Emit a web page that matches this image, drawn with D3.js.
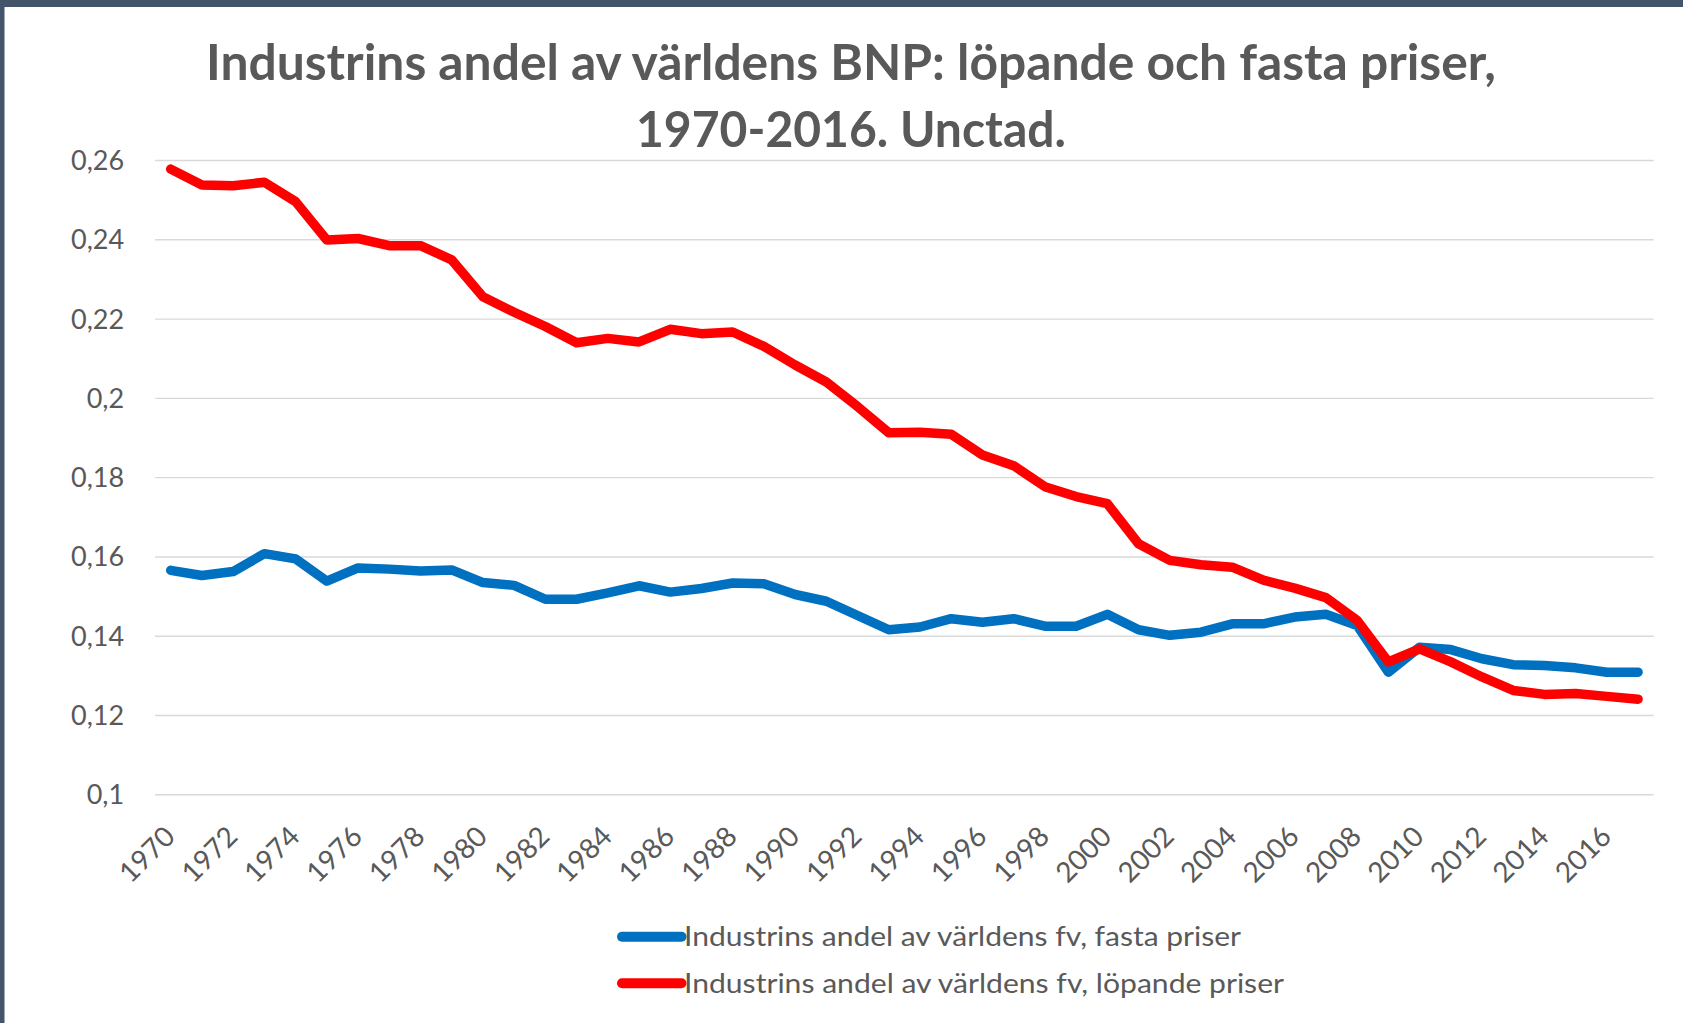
<!DOCTYPE html>
<html>
<head>
<meta charset="utf-8">
<script src="https://cdn.jsdelivr.net/npm/d3@7"></script>
<style>
html,body{margin:0;padding:0;background:#fff;}
svg{display:block;}
text{font-family:Lato,"Open Sans",sans-serif;}
</style>
</head>
<body>
<svg id="chart" width="1683" height="1023"></svg>
<script>
const years = d3.range(1970, 2018);
const fastaPriser = [0.1565,0.1552,0.1562,0.1607,0.1594,0.1538,0.1571,0.1568,0.1563,0.1566,
  0.1534,0.1527,0.1492,0.1492,0.1508,0.1526,0.1510,0.1519,0.1533,0.1531,
  0.1504,0.1487,0.1451,0.1415,0.1422,0.1443,0.1434,0.1443,0.1424,0.1424,
  0.1454,0.1415,0.1401,0.1409,0.1430,0.1430,0.1447,0.1454,0.1426,0.1308,
  0.1371,0.1365,0.1342,0.1327,0.1325,0.1319,0.1308,0.1308];
const lopandePriser = [0.2577,0.2537,0.2535,0.2544,0.2495,0.2398,0.2402,0.2384,0.2384,0.2348,
  0.2255,0.2216,0.2180,0.2139,0.2150,0.2141,0.2173,0.2162,0.2166,0.2130,
  0.2083,0.2040,0.1978,0.1912,0.1913,0.1908,0.1856,0.1829,0.1776,0.1751,
  0.1733,0.1632,0.1590,0.1579,0.1573,0.1540,0.1520,0.1496,0.1439,0.1334,
  0.1367,0.1334,0.1296,0.1262,0.1252,0.1254,0.1247,0.1240];
const yTicks = [0.1,0.12,0.14,0.16,0.18,0.2,0.22,0.24,0.26];
const yTickLabels = ["0,1","0,12","0,14","0,16","0,18","0,2","0,22","0,24","0,26"];
const xTickYears = years.filter(y => y % 2 === 0);
const seriesNames = ["Industrins andel av världens fv, fasta priser","Industrins andel av världens fv, löpande priser"];
const seriesColors = ["#0070C0","#FF0000"];
const titleLines = ["Industrins andel av världens BNP: löpande och fasta priser,","1970-2016. Unctad."];

const svg = d3.select("#chart");
const textColor = "#595959";

// frame
svg.append("rect").attr("x",0).attr("y",0).attr("width",1683).attr("height",1023).attr("fill","#fff");
svg.append("rect").attr("x",0).attr("y",0).attr("width",1683).attr("height",7).attr("fill","#44546A");
svg.append("rect").attr("x",0).attr("y",0).attr("width",4.5).attr("height",1023).attr("fill","#44546A");

const x = d3.scaleBand().domain(years).range([155.1, 1653.7]);
const xc = d => x(d) + x.bandwidth()/2;
const y = d3.scaleLinear().domain([0.1, 0.26]).range([794.3, 160]);

// title
const titleSpecs = [{x:206, y:80, w:1290},{x:636, y:146.5, w:430}];
titleLines.forEach((t,i) => {
  svg.append("text").attr("x",titleSpecs[i].x).attr("y",titleSpecs[i].y)
    .attr("font-size",49).attr("font-weight","bold").attr("fill",textColor)
    .attr("textLength",titleSpecs[i].w).attr("lengthAdjust","spacingAndGlyphs")
    .text(t);
});

// y axis + gridlines
const yAxis = d3.axisLeft(y).tickValues(yTicks)
  .tickFormat((d,i) => yTickLabels[i])
  .tickSize(-(1653.7-155.1)).tickPadding(31);
const gy = svg.append("g").attr("transform","translate(155.1,0)").call(yAxis);
gy.select(".domain").remove();
gy.selectAll(".tick line").attr("stroke","#D9D9D9").attr("stroke-width",1.4);
gy.selectAll(".tick text").attr("font-size",27).attr("fill",textColor)
  .attr("font-family","Lato").attr("dy","0.35em");

// x axis labels
const xAxis = d3.axisBottom(x).tickValues(xTickYears).tickSize(0).tickPadding(0);
const gx = svg.append("g").attr("transform","translate(0,794.3)").call(xAxis);
gx.select(".domain").remove();
gx.selectAll(".tick text")
  .attr("font-size",28).attr("fill",textColor).attr("font-family","Lato")
  .attr("text-anchor","end")
  .attr("y",0).attr("dy",0)
  .attr("transform","translate(6,44) rotate(-45)");

// lines
const line = d3.line().x((d,i) => xc(years[i])).y(d => y(d));
[fastaPriser, lopandePriser].forEach((s,i) => {
  svg.append("path").datum(s).attr("d", line)
    .attr("fill","none").attr("stroke",seriesColors[i]).attr("stroke-width",9.5)
    .attr("stroke-linejoin","round").attr("stroke-linecap","round");
});

// legend
const legendY = [936.7, 983.3];
const legendW = [557, 600];
seriesNames.forEach((n,i) => {
  svg.append("line").attr("x1",622).attr("x2",681.5).attr("y1",legendY[i]).attr("y2",legendY[i])
    .attr("stroke",seriesColors[i]).attr("stroke-width",10).attr("stroke-linecap","round");
  svg.append("text").attr("x",684).attr("y",legendY[i]+9.3)
    .attr("font-size",26).attr("fill",textColor)
    .attr("textLength",legendW[i]).attr("lengthAdjust","spacingAndGlyphs")
    .text(n);
});
</script>
</body>
</html>
